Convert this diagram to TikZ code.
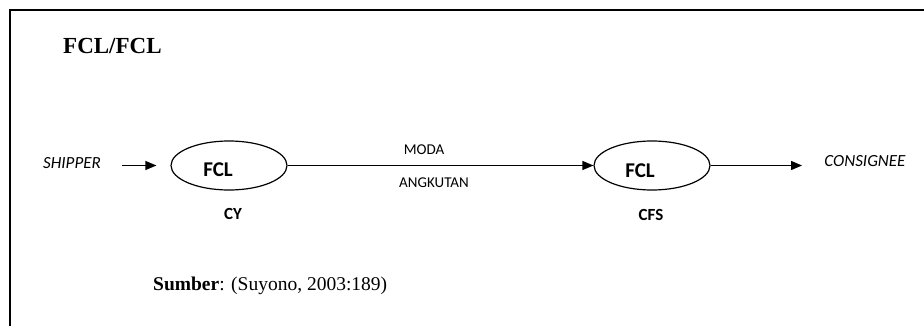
\documentclass[tikz,border=0pt]{standalone}
\usepackage{fontspec}
\setmainfont{Liberation Serif}
\newfontfamily\calib{Carlito}
\usetikzlibrary{arrows.meta,shapes.geometric}
\begin{document}
\begin{tikzpicture}[x=1pt,y=-1pt,
  ell/.style={draw,ellipse,line width=1.2pt,minimum width=116pt,minimum height=49pt,inner sep=0pt},
  arr/.style={line width=1.3pt,-{Triangle[length=11pt,width=9pt]}},
  fcltxt/.style={font=\calib\bfseries\fontsize{21}{21}\selectfont,inner sep=0pt},
  lbl/.style={font=\calib\bfseries\fontsize{17}{17}\selectfont,inner sep=0pt},
  small/.style={font=\calib\fontsize{15}{15}\selectfont,inner sep=0pt},
  endtxt/.style={font=\calib\itshape\fontsize{17}{17}\selectfont,inner sep=0pt}]
\useasboundingbox (0,0) rectangle (924,326);
\fill[white] (0,0) rectangle (924,326);
\draw[line width=1.5pt] (10,326) -- (10,10) -- (924,10);
\node[font=\bfseries\fontsize{23}{23}\selectfont,inner sep=0pt,anchor=west] (title) at (63,46) {FCL/FCL};
\node[endtxt] (shipper) at (72,163) {SHIPPER};
\node[ell] (e1) at (229,165.5) {};
\node[fcltxt] (f1) at (218,170) {FCL};
\node[lbl] (cy) at (233,214) {CY};
\node[small] (moda) at (424,150) {MODA};
\node[small] (angk) at (434,183) {ANGKUTAN};
\node[ell] (e2) at (652,165.5) {};
\node[fcltxt] (f2) at (640,171) {FCL};
\node[lbl] (cfs) at (651,215) {CFS};
\node[endtxt] (cons) at (865,161) {CONSIGNEE};
\node[inner sep=0pt,anchor=west,font=\fontsize{19.5}{19.5}\selectfont] (src) at (153,286) {\textbf{Sumber}: (Suyono, 2003:189)};
\coordinate (s1) at (122,165.5);
\coordinate (cend) at (802,165.5);
\draw[arr,shorten >=14pt] (s1) -- (e1.west);
\draw[arr] (e1.east) -- (e2.west);
\draw[arr] (e2.east) -- (cend);
\end{tikzpicture}
\end{document}
